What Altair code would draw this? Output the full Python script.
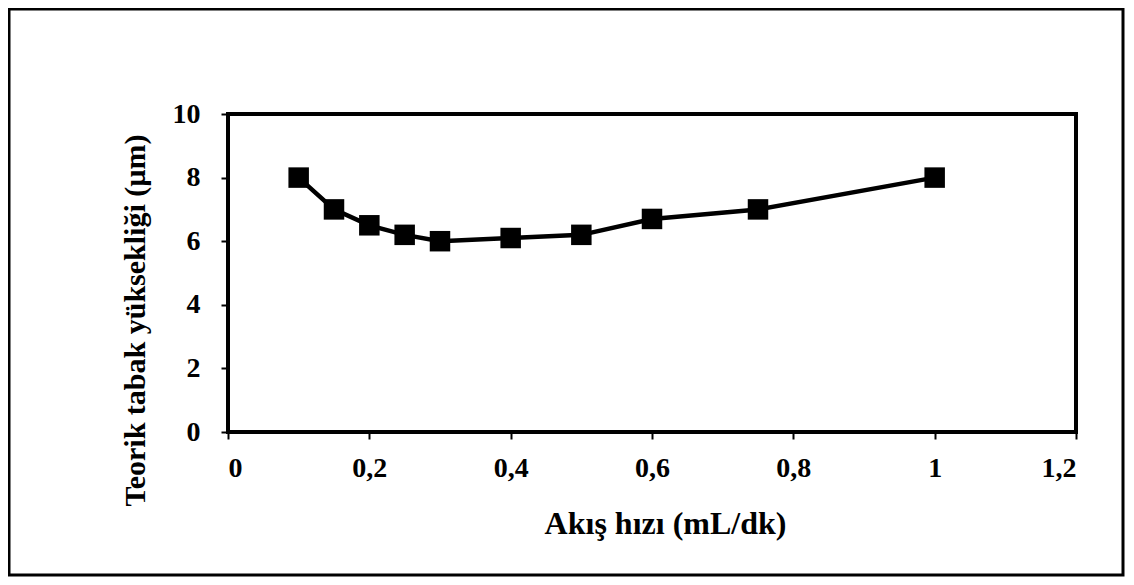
import altair as alt
import pandas as pd

flow = [0.1, 0.15, 0.2, 0.25, 0.3, 0.4, 0.5, 0.6, 0.75, 1.0]
hetp = [8.0, 7.0, 6.5, 6.2, 6.0, 6.1, 6.2, 6.7, 7.0, 8.0]
x_ticks = [0, 0.2, 0.4, 0.6, 0.8, 1.0, 1.2]
y_ticks = [0, 2, 4, 6, 8, 10]

df = pd.DataFrame({"x": flow, "y": hetp})
FONT = "Liberation Serif"

xenc = alt.X("x:Q", scale=alt.Scale(domain=[0, 1.2], nice=False),
             axis=alt.Axis(values=x_ticks, title="Akış hızı (mL/dk)",
                           labelExpr="replace(format(datum.value, '~g'), '.', ',')",
                           grid=False, domain=False, tickColor="black", tickWidth=2, tickSize=7,
                           labelFont=FONT, labelFontSize=28, labelFontWeight="bold", labelColor="black",
                           labelPadding=15, titleFont=FONT, titleFontSize=32, titleFontWeight="bold",
                           titleColor="black", titlePadding=26, titleX=437))
yenc = alt.Y("y:Q", scale=alt.Scale(domain=[0, 10], nice=False),
             axis=alt.Axis(values=y_ticks, title="Teorik tabak yüksekliği (µm)",
                           grid=False, domain=False, tickColor="black", tickWidth=2, tickSize=7,
                           labelFont=FONT, labelFontSize=28, labelFontWeight="bold", labelColor="black",
                           labelPadding=21, titleFont=FONT, titleFontSize=30, titleFontWeight="bold",
                           titleColor="black", titlePadding=22, titleY=206))

border = alt.Chart(pd.DataFrame({"a": [0]})).mark_rect(
    fill=None, stroke="black", strokeWidth=3, clip=False
).encode(x=alt.value(-219), x2=alt.value(895), y=alt.value(-105), y2=alt.value(461))

line = alt.Chart(df).mark_line(color="black", strokeWidth=4.5).encode(x=xenc, y=yenc)
pts = alt.Chart(df).mark_point(shape="square", filled=True, color="black", size=420, opacity=1).encode(x=xenc, y=yenc)

chart = alt.layer(border, line, pts).properties(
    width=848, height=318,
    background="white",
    autosize=alt.AutoSizeParams(type="none"),
    padding={"left": 220, "top": 106, "right": 50, "bottom": 145},
).configure_view(stroke="black", strokeWidth=4)

chart.save("out.html", embed_options={"renderer": "svg", "actions": False})
